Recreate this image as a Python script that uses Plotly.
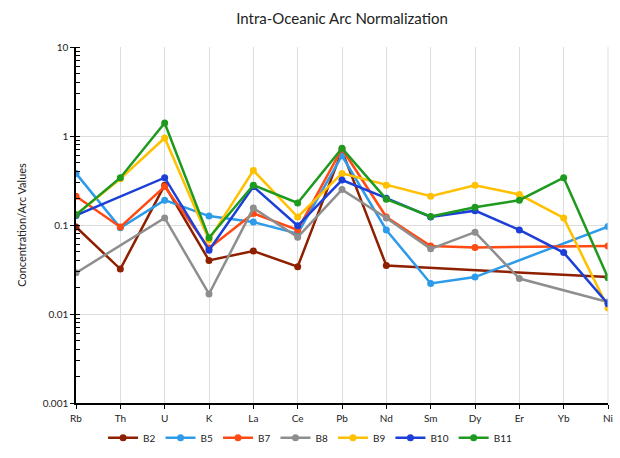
import plotly.graph_objects as go

categories = ["Rb", "Th", "U", "K", "La", "Ce", "Pb", "Nd", "Sm", "Dy", "Er", "Yb", "Ni"]

B2 = [0.095, 0.032, 0.28, 0.040, 0.051, 0.034, 0.68, 0.035, None, None, None, None, 0.026]
B5 = [0.38, 0.093, 0.19, 0.126, 0.108, 0.080, 0.60, 0.088, 0.022, 0.026, None, None, 0.096]
B7 = [0.21, 0.095, 0.27, 0.055, 0.135, 0.088, 0.72, 0.123, 0.058, 0.056, None, None, 0.058]
B8 = [0.029, None, 0.12, 0.0168, 0.155, 0.073, 0.25, 0.12, 0.054, 0.083, 0.025, None, 0.0136]
B9 = [0.13, 0.33, 0.95, 0.068, 0.41, 0.123, 0.38, 0.28, 0.21, 0.28, 0.22, 0.12, 0.0117]
B10 = [0.128, None, 0.34, 0.052, 0.27, 0.098, 0.32, 0.20, 0.123, 0.145, 0.088, 0.049, 0.013]
B11 = [0.13, 0.34, 1.4, 0.072, 0.28, 0.177, 0.73, 0.195, 0.125, 0.158, 0.19, 0.34, 0.0255]

series_names = ["B2", "B5", "B7", "B8", "B9", "B10", "B11"]
series_values = [B2, B5, B7, B8, B9, B10, B11]
colors = ["#8E2000", "#2E9BEA", "#FF4A14", "#8E8E8E", "#FFC000", "#1C3FD8", "#1E9A1E"]

y_tickvals = [0.001, 0.01, 0.1, 1, 10]
y_ticktext = ["0.001", "0.01", "0.1", "1", "10"]

font_family = "Lato, 'Open Sans', sans-serif"

fig = go.Figure()
for name, vals, col in zip(series_names, series_values, colors):
    fig.add_trace(go.Scatter(
        x=categories, y=vals, name=name, mode="lines+markers",
        connectgaps=True,
        line=dict(color=col, width=2.5),
        marker=dict(color=col, size=7, symbol="circle"),
    ))

fig.update_layout(
    width=620, height=458,
    margin=dict(l=76, r=12, t=47, b=55, autoexpand=False),
    paper_bgcolor="white", plot_bgcolor="white",
    font=dict(family=font_family, size=10, color="#222"),
    title=dict(text="Intra-Oceanic Arc Normalization", x=0.5, xref="paper",
               y=0.96, yref="container", yanchor="middle",
               font=dict(size=15, color="#222", family=font_family)),
    showlegend=True,
    legend=dict(orientation="h", x=0.44, xanchor="center",
                yref="container", y=0.044, yanchor="middle",
                font=dict(size=10), itemwidth=30, bgcolor="rgba(0,0,0,0)"),
)

fig.update_xaxes(
    type="category", categoryorder="array", categoryarray=categories,
    range=[0, 12], showgrid=True, gridcolor="#DDDDDD", gridwidth=1,
    showline=True, linecolor="black", linewidth=1.5,
    ticks="outside", ticklen=4, tickcolor="black",
    ticklabelstandoff=1,
    tickfont=dict(size=10, color="#222"), zeroline=False,
    mirror=False,
)

fig.update_yaxes(
    type="log", range=[-3, 1],
    tickvals=y_tickvals, ticktext=y_ticktext,
    showgrid=True, gridcolor="#DDDDDD", gridwidth=1,
    showline=True, linecolor="black", linewidth=1.5,
    ticks="outside", ticklen=4, tickcolor="black",
    minor=dict(ticks="inside", ticklen=4, tickcolor="black", dtick="D1", showgrid=False),
    tickfont=dict(size=10, color="#222"),
    title=dict(text="Concentration/Arc Values", font=dict(size=11, color="#222"), standoff=14),
    zeroline=False,
)

# right border line at Ni
fig.add_shape(type="line", xref="paper", yref="paper", x0=1, x1=1, y0=0, y1=1,
              line=dict(color="#DDDDDD", width=1))

fig.write_html("out.html")
